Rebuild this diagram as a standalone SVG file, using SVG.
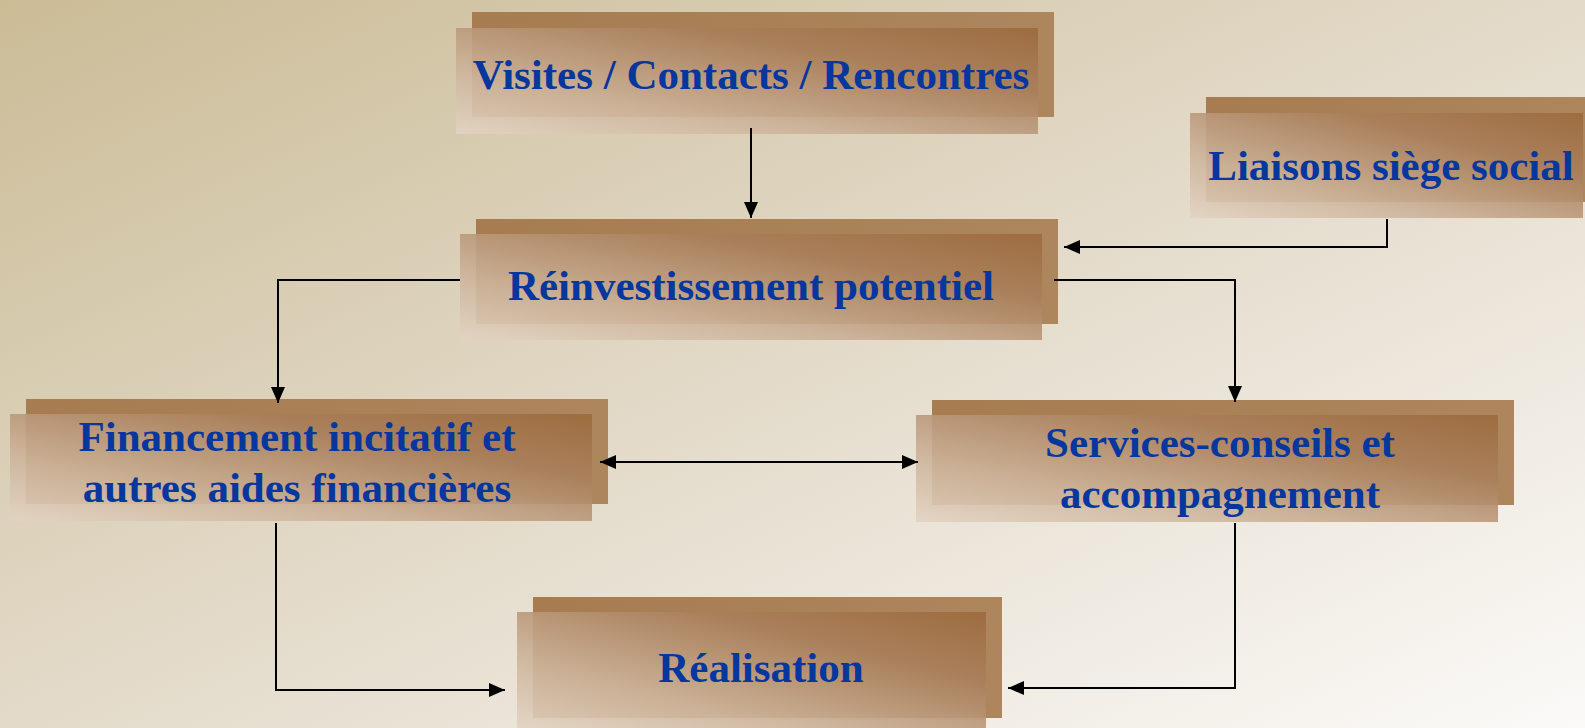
<svg xmlns="http://www.w3.org/2000/svg" width="1585" height="728" viewBox="0 0 1585 728">
  <defs>
    <linearGradient id="bg" x1="0" y1="0" x2="1" y2="1">
      <stop offset="0" stop-color="#cbbc96"/>
      <stop offset="0.5" stop-color="#e3dac9"/>
      <stop offset="1" stop-color="#fbfaf8"/>
    </linearGradient>
    <linearGradient id="back" x1="0" y1="0" x2="1" y2="0">
      <stop offset="0" stop-color="#a67c50"/>
      <stop offset="1" stop-color="#ad865e"/>
    </linearGradient>
    <linearGradient id="front" x1="0" y1="1" x2="1" y2="0">
      <stop offset="0" stop-color="#e2d3c2"/>
      <stop offset="0.3" stop-color="#cdb49b"/>
      <stop offset="0.7" stop-color="#a97f5b"/>
      <stop offset="1" stop-color="#9c6a3c"/>
    </linearGradient>
    <marker id="arr" markerUnits="userSpaceOnUse" markerWidth="17" markerHeight="17" viewBox="0 0 17 17" refX="16" refY="8.5" orient="auto-start-reverse">
      <path d="M0,1.5 L16,8.5 L0,15.5 Z" fill="#000"/>
    </marker>
    <style>
      .b { fill: url(#back); }
      .f { fill: url(#front); opacity: 0.9; }
      .t { font-family: "Liberation Serif", "Times New Roman", serif; font-weight: bold; font-size: 43px; fill: #05379f; text-anchor: middle; }
      .c { fill: none; stroke: #000; stroke-width: 2; }
    </style>
  </defs>

  <rect width="1585" height="728" fill="url(#bg)"/>

  <g id="visites">
    <rect class="b" x="472" y="12" width="582" height="105"/>
    <rect class="f" x="456" y="28" width="582" height="106"/>
    <text class="t" x="751" y="89">Visites / Contacts / Rencontres</text>
  </g>

  <g id="liaisons">
    <rect class="b" x="1206" y="97" width="379" height="105"/>
    <rect class="f" x="1190" y="113" width="393" height="105"/>
    <text class="t" x="1391" y="180">Liaisons siège social</text>
  </g>

  <g id="reinvestissement">
    <rect class="b" x="476" y="219" width="582" height="105"/>
    <rect class="f" x="460" y="234" width="582" height="106"/>
    <text class="t" x="751" y="300">Réinvestissement potentiel</text>
  </g>

  <g id="financement">
    <rect class="b" x="26" y="399" width="582" height="105"/>
    <rect class="f" x="10" y="414" width="582" height="107"/>
    <text class="t" x="297" y="451">Financement incitatif et</text>
    <text class="t" x="297" y="502">autres aides financières</text>
  </g>

  <g id="services">
    <rect class="b" x="932" y="400" width="582" height="105"/>
    <rect class="f" x="916" y="415" width="582" height="107"/>
    <text class="t" x="1220" y="457">Services-conseils et</text>
    <text class="t" x="1220" y="508">accompagnement</text>
  </g>

  <g id="realisation">
    <rect class="b" x="533" y="597" width="469" height="121"/>
    <rect class="f" x="517" y="612" width="469" height="116"/>
    <text class="t" x="761" y="682">Réalisation</text>
  </g>

  <!-- connectors drawn last so arrowheads sit on top of the boxes -->
  <g id="connectors">
    <path class="c" d="M751,128 V218" marker-end="url(#arr)"/>
    <path class="c" d="M1387,219 V247 H1064" marker-end="url(#arr)"/>
    <path class="c" d="M460,280 H278 V403" marker-end="url(#arr)"/>
    <path class="c" d="M1054,280 H1235 V402" marker-end="url(#arr)"/>
    <path class="c" d="M600,462 H918" marker-start="url(#arr)" marker-end="url(#arr)"/>
    <path class="c" d="M276,523 V690 H505" marker-end="url(#arr)"/>
    <path class="c" d="M1235,523 V688 H1008" marker-end="url(#arr)"/>
  </g>
</svg>
